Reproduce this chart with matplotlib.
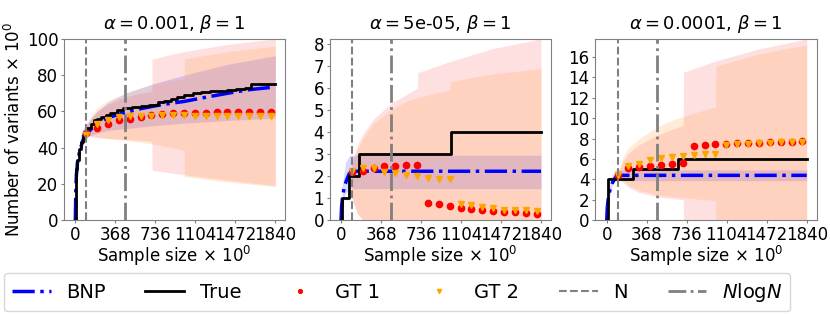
import numpy as np
import matplotlib
matplotlib.use("Agg")
import matplotlib.pyplot as plt

# ---- data ----
titles = [r"$\alpha = 0.001$, $\beta = 1$", r"$\alpha = $5e-05, $\beta = 1$", r"$\alpha = 0.0001$, $\beta = 1$"]
xticks = [0, 368, 736, 1104, 1472, 1840]
n_obs = 100
n_log_n = 460.5
ylims = [100, 8.23, 17.77]

gt_x = [100, 200, 300, 400, 500, 600, 700, 800, 900, 1000, 1100, 1200, 1300, 1400, 1500, 1600, 1700, 1800]

# panel 1
true1_x = [0, 3, 8, 15, 30, 50, 75, 95, 110, 140, 170, 200, 240, 280, 320, 380, 440, 520, 600, 680,
           760, 820, 880, 940, 1000, 1080, 1160, 1240, 1320, 1400, 1480, 1560, 1620, 1840]
true1_y = [0, 20, 28, 33, 39, 43, 47, 50, 51, 53, 55, 56, 57, 58, 59, 61, 62, 62.5, 63, 63.5,
           65, 66, 67, 68, 69, 70, 70.5, 71, 71.5, 72, 72.5, 73, 75, 75]
bnp1_x = [0, 5, 10, 20, 40, 70, 100, 150, 200, 300, 460, 600, 800, 1000, 1200, 1400, 1600, 1840]
bnp1_y = [0, 18, 25, 32, 38, 44, 47.5, 50.5, 53, 56.5, 59.5, 61.5, 63.8, 65.5, 67.8, 70, 72, 73.5]
bnp1_band_x = [20, 50, 100, 200, 300, 460, 700, 1000, 1400, 1840]
bnp1_lo = [25, 40, 46, 48, 49.5, 50.5, 52, 53.5, 55, 56.3]
bnp1_hi = [33, 48, 53, 60, 65, 70, 75, 80, 86, 90.7]
gt1_1 = [48, 51, 53.2, 55, 56, 57, 58, 58.5, 59, 59.2, 59.3, 59.3, 59.4, 59.4, 59.5, 59.5, 59.6, 59.6]
gt2_1 = [47, 53, 55.5, 57, 57.5, 57.5, 57.5, 57.8, 58, 58, 57.5, 57.5, 57.5, 57.5, 57.6, 57.6, 57.7, 57.7]
gt1band1_x = [100, 150, 200, 300, 460, 600, 704, 706, 1000, 1400, 1840]
gt1band1_lo = [47, 46, 45.5, 45, 44.5, 44, 43.5, 27.5, 25, 22, 19]
gt1band1_hi = [52, 57, 60, 64, 68, 70, 71, 89, 93, 97, 100]
gt2band1_x = [100, 150, 200, 300, 460, 600, 800, 1001, 1003, 1400, 1840]
gt2band1_lo = [47, 46.5, 46, 45, 44, 43, 41, 38.5, 24, 21, 18.5]
gt2band1_hi = [52, 58, 62, 66, 70, 73, 76, 78, 89, 93, 96]

# panel 2
true2_x = [0, 5, 70, 165, 1012, 1840]
true2_y = [0, 1, 2, 3, 4, 4]
bnp2_x = [0, 5, 15, 30, 50, 75, 100, 1840]
bnp2_y = [0, 0.6, 1.1, 1.5, 1.8, 2.1, 2.22, 2.22]
bnp2_band_x = [10, 40, 80, 1840]
bnp2_lo = [0.6, 1.2, 1.43, 1.43]
bnp2_hi = [1.5, 2.6, 2.95, 2.95]
gt1_2 = [2.2, 2.25, 2.38, 2.44, 2.47, 2.5, 2.52, 0.8, 0.71, 0.64, 0.57, 0.51, 0.47, 0.42, 0.39, 0.36, 0.33, 0.3]
gt2_2 = [2.22, 2.35, 2.38, 2.2, 2.12, 2.06, 2.0, 1.93, 1.87, 1.87, 0.73, 0.67, 0.6, 0.53, 0.48, 0.45, 0.44, 0.41]
gt1band2_x = [100, 150, 200, 300, 460, 600, 704, 706, 1000, 1400, 1840]
gt1band2_lo = [1.0, 0.3, 0, 0, 0, 0, 0, 0, 0, 0, 0]
gt1band2_hi = [2.6, 3.4, 3.9, 4.6, 5.3, 5.7, 6.0, 6.7, 7.2, 7.8, 8.23]
gt2band2_x = [100, 150, 200, 300, 460, 600, 800, 1001, 1003, 1400, 1840]
gt2band2_lo = [1.0, 0.3, 0, 0, 0, 0, 0, 0, 0, 0, 0]
gt2band2_hi = [2.5, 3.2, 3.7, 4.4, 5.0, 5.4, 5.7, 5.9, 6.3, 6.65, 6.88]

# panel 3
true3_x = [0, 12, 240, 660, 1840]
true3_y = [0, 4, 5, 6, 6]
bnp3_x = [0, 5, 15, 30, 50, 75, 100, 1840]
bnp3_y = [0, 1.2, 2.2, 3.0, 3.6, 4.1, 4.39, 4.39]
bnp3_band_x = [20, 50, 80, 1840]
bnp3_lo = [2.0, 3.4, 3.87, 3.87]
bnp3_hi = [3.0, 4.5, 4.92, 4.92]
gt1_3 = [4.4, 5.1, 5.2, 5.3, 5.45, 5.55, 5.6, 7.25, 7.35, 7.45, 7.5, 7.55, 7.55, 7.6, 7.62, 7.65, 7.68, 7.72]
gt2_3 = [4.45, 5.3, 5.55, 5.85, 6.1, 6.2, 6.3, 6.4, 6.45, 6.5, 7.35, 7.42, 7.48, 7.52, 7.58, 7.62, 7.66, 7.7]
gt1band3_x = [100, 150, 200, 300, 460, 600, 704, 706, 1000, 1400, 1840]
gt1band3_lo = [4.3, 3.7, 3.2, 2.7, 2.3, 2.1, 2.0, 0, 0, 0, 0]
gt1band3_hi = [4.5, 5.8, 6.6, 7.4, 8.3, 8.9, 9.3, 14.5, 15.6, 16.8, 17.77]
gt2band3_x = [100, 150, 200, 300, 460, 600, 800, 1001, 1003, 1400, 1840]
gt2band3_lo = [4.4, 3.9, 3.4, 2.9, 2.5, 2.3, 2.1, 1.9, 0, 0, 0]
gt2band3_hi = [4.6, 6.2, 7.1, 8.0, 9.1, 9.8, 10.5, 11.1, 15.1, 16.3, 17.2]

panels = [
    dict(true_x=true1_x, true_y=true1_y, bnp_x=bnp1_x, bnp_y=bnp1_y,
         bb_x=bnp1_band_x, bb_lo=bnp1_lo, bb_hi=bnp1_hi, gt1=gt1_1, gt2=gt2_1,
         g1_x=gt1band1_x, g1_lo=gt1band1_lo, g1_hi=gt1band1_hi,
         g2_x=gt2band1_x, g2_lo=gt2band1_lo, g2_hi=gt2band1_hi,
         yticks=[0, 20, 40, 60, 80, 100]),
    dict(true_x=true2_x, true_y=true2_y, bnp_x=bnp2_x, bnp_y=bnp2_y,
         bb_x=bnp2_band_x, bb_lo=bnp2_lo, bb_hi=bnp2_hi, gt1=gt1_2, gt2=gt2_2,
         g1_x=gt1band2_x, g1_lo=gt1band2_lo, g1_hi=gt1band2_hi,
         g2_x=gt2band2_x, g2_lo=gt2band2_lo, g2_hi=gt2band2_hi,
         yticks=[0, 1, 2, 3, 4, 5, 6, 7, 8]),
    dict(true_x=true3_x, true_y=true3_y, bnp_x=bnp3_x, bnp_y=bnp3_y,
         bb_x=bnp3_band_x, bb_lo=bnp3_lo, bb_hi=bnp3_hi, gt1=gt1_3, gt2=gt2_3,
         g1_x=gt1band3_x, g1_lo=gt1band3_lo, g1_hi=gt1band3_hi,
         g2_x=gt2band3_x, g2_lo=gt2band3_lo, g2_hi=gt2band3_hi,
         yticks=[0, 2, 4, 6, 8, 10, 12, 14, 16]),
]

plt.rcParams['font.size'] = 12
fig, axes = plt.subplots(1, 3, figsize=(8.3, 3.14), dpi=100)
plt.subplots_adjust(left=0.077, right=0.984, bottom=0.299, top=0.876, wspace=0.2)

for i, (ax, p) in enumerate(zip(axes, panels)):
    # confidence bands
    ax.fill_between(p['bb_x'], p['bb_lo'], p['bb_hi'], color='blue', alpha=0.15, linewidth=0)
    ax.fill_between(p['g1_x'], p['g1_lo'], p['g1_hi'], color='red', alpha=0.12, linewidth=0)
    ax.fill_between(p['g2_x'], p['g2_lo'], p['g2_hi'], color='#ff9d3b', alpha=0.2, linewidth=0)

    l_bnp, = ax.plot(p['bnp_x'], p['bnp_y'], color='blue', linestyle='-.', linewidth=2.5, label='BNP')
    l_true, = ax.step(p['true_x'], p['true_y'], where='post', color='black', linewidth=2, label='True')
    l_gt1, = ax.plot(gt_x, p['gt1'], 'o', color='red', markersize=4.5, label='GT 1')
    l_gt2, = ax.plot(gt_x, p['gt2'], 'v', color='orange', markersize=5, label='GT 2')
    l_n = ax.axvline(n_obs, color='gray', linestyle='--', linewidth=1.5, label='N')
    l_nlogn = ax.axvline(n_log_n, color='gray', linestyle='-.', linewidth=2, label=r'$N$log$N$')

    ax.set_xlim(-105, 1932)
    ax.set_ylim(0, ylims[i])
    ax.set_xticks(xticks)
    ax.set_yticks(p['yticks'])
    ax.set_title(titles[i], fontsize=13, pad=7)
    ax.set_xlabel(r'Sample size $\times\ 10^0$', labelpad=0)
    for s in ax.spines.values():
        s.set_color('#808080')
    ax.tick_params(color='#808080', length=2.5, pad=1.5)

axes[0].set_ylabel(r'Number of variants $\times\ 10^0$', labelpad=2)

handles = [l_bnp, l_true, l_gt1, l_gt2, l_n, l_nlogn]
fig.legend(handles, [h.get_label() for h in handles], loc='lower left', ncol=6,
           bbox_to_anchor=(0.005, 0.008, 0.947, 0.1), mode='expand', fontsize=14,
           markerscale=0.6, handlelength=2, borderaxespad=0)

plt.savefig('out.png', dpi=100)
plt.close()
